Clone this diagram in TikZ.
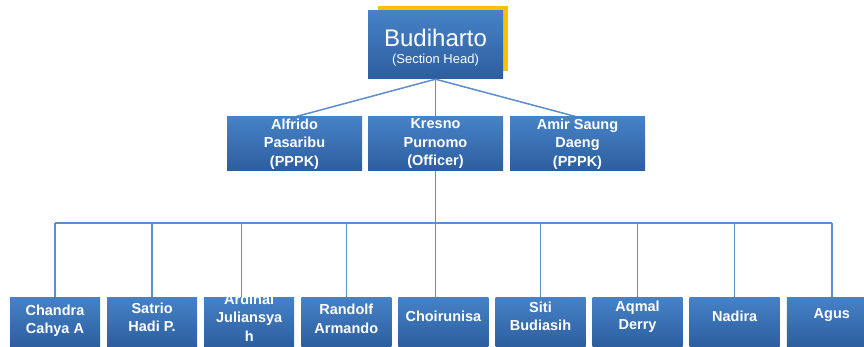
\documentclass[tikz,border=0pt]{standalone}
\usepackage{fontspec}
\setmainfont{Liberation Sans}
\usetikzlibrary{calc}
\definecolor{boxtop}{HTML}{4682C6}
\definecolor{boxbot}{HTML}{2C5E9F}
\definecolor{linec}{HTML}{5C8DCC}
\definecolor{yel}{HTML}{FFC000}
\tikzset{
  box/.style={rectangle, inner sep=0pt, top color=boxtop, bottom color=boxbot, draw=none},
  topbox/.style={box, minimum width=135pt, minimum height=68pt},
  yelbox/.style={rectangle, fill=yel, draw=none, minimum width=130pt, minimum height=65pt},
  midbox/.style={box, minimum width=135pt, minimum height=54pt, text=white, align=center,
    font=\bfseries\fontsize{14.5}{18.5}\selectfont},
  botbox/.style={box, minimum width=90pt, minimum height=50pt},
  bottext/.style={inner sep=0pt, text=white, align=center, font=\bfseries\fontsize{14.5}{18.5}\selectfont},
  toptext/.style={inner sep=0pt, text=white, font=\fontsize{24}{28}\selectfont},
  subtext/.style={inner sep=0pt, text=white, font=\fontsize{13}{15}\selectfont},
  conn/.style={draw=linec, line width=1.5pt},
}
\begin{document}
\begin{tikzpicture}[x=1pt,y=-1pt]
\useasboundingbox (0,0) rectangle (864,347);
\clip (0,0) rectangle (864,347);
% top
\node[yelbox] (yshadow) at (443,38.5) {};
\node[topbox] (top) at (435.5,45) {};
\node[toptext] (tname) at (435.5,38) {Budiharto};
\node[subtext] (trole) at (435.5,60.5) {(Section Head)};
% bus
\coordinate (busL) at (55,223);
\coordinate (busR) at (832,223);
% bottom boxes
\foreach \i/\x in {1/55,2/152.1,3/249.2,4/346.3,5/443.4,6/540.5,7/637.6,8/734.7,9/831.8}{
  \node[botbox] (b\i) at (\x,322) {};
}
% connectors (behind middle boxes)
\draw[conn] (top.south) -- (top.south |- b5.north);
\draw[conn] (top.south) -- (294.5,117) coordinate (m1top);
\draw[conn] (top.south) -- (577.5,117) coordinate (m3top);
\draw[conn] (busL) -- (busR);
\foreach \i in {1,2,4,6,7,8,9}{
  \draw[conn] (b\i.north) -- (b\i.north |- busL);
}
\draw[conn] ($(b3.north)+(-7.5,0)$) -- ($(b3.north |- busL)+(-7.5,0)$);
% middle boxes
\node[midbox] (m1) at (294.5,144) {Alfrido\\Pasaribu\\(PPPK)};
\node[midbox] (m2) at (435.5,144) {Kresno\\Purnomo\\(Officer)};
\node[midbox] (m3) at (577.5,144) {Amir Saung\\Daeng\\(PPPK)};
\draw[conn] (m2.south) -- (m2.south |- b5.north);
% bottom texts
\node[bottext] (t1) at ($(b1.center)+(0,-1)$) {Chandra\\Cahya A};
\node[bottext] (t2) at ($(b2.center)+(0,-4.5)$) {Satrio\\Hadi P.};
\begin{scope}
  \clip (b3.south west) rectangle (b3.north east);
  \node[bottext] (t3) at ($(b3.center)+(0,-4.5)$) {Ardinal\\Juliansya\\h};
\end{scope}
\node[bottext] (t4) at ($(b4.center)+(0,-3)$) {Randolf\\Armando};
\node[bottext] (t5) at ($(b5.center)+(0,-5.5)$) {Choirunisa};
\node[bottext] (t6) at ($(b6.center)+(0,-5.5)$) {Siti\\Budiasih};
\node[bottext] (t7) at ($(b7.center)+(0,-5)$) {Aqmal\\Derry};
\node[bottext] (t8) at ($(b8.center)+(0,-6)$) {Nadira};
\node[bottext] (t9) at ($(b9.center)+(0,-7)$) {Agus};
\end{tikzpicture}
\end{document}
